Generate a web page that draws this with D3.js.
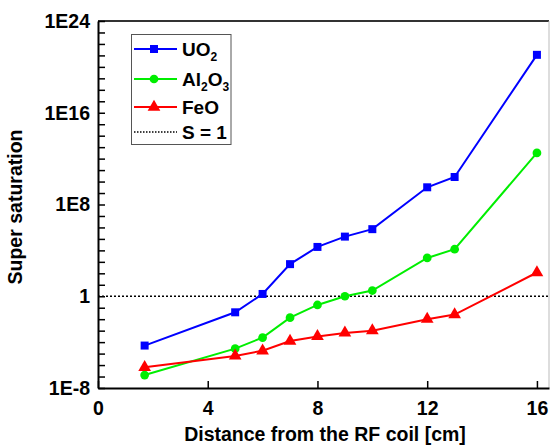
<!DOCTYPE html>
<html>
<head>
<meta charset="utf-8">
<script src="https://cdn.jsdelivr.net/npm/d3@7"></script>
<style>
  body { margin: 0; background: #fff; }
  text { font-family: "Liberation Sans", Arial, sans-serif; font-weight: bold; }
</style>
</head>
<body>
<div id="chart"></div>
<script>
// distances [cm]
const distance = [1.7, 5, 6, 7, 8, 9, 10, 12, 13, 16]
// log10 of super saturation
const uo2 = [-4.3, -1.4, 0.2, 2.8, 4.3, 5.2, 5.85, 9.5, 10.4, 21.05]
const al2o3 = [-6.87, -4.57, -3.6, -1.87, -0.76, 0, 0.5, 3.34, 4.1, 12.5]
const feo = [-6.2, -5.2, -4.75, -3.9, -3.5, -3.2, -3.0, -2.0, -1.6, 2.07]
const xTicks = [0, 4, 8, 12, 16]
const yLabelExp = [-8, 0, 8, 16, 24]

const width = 551, height = 447
const margin = {top: 21, right: 2, bottom: 59, left: 98}

const svg = d3.select('#chart').append('svg')
    .attr('width', width).attr('height', height)

const x = d3.scaleLinear().domain([0, 16.44]).range([margin.left, width - margin.right])
const y = d3.scaleLog().domain([1e-8, 1e24]).range([height - margin.bottom, margin.top])

// frame: top dark, right light
svg.append('line').attr('x1', margin.left).attr('x2', width - margin.right)
    .attr('y1', margin.top).attr('y2', margin.top)
    .attr('stroke', '#333').attr('stroke-width', 2)
svg.append('line').attr('x1', width - margin.right).attr('x2', width - margin.right)
    .attr('y1', margin.top).attr('y2', height - margin.bottom)
    .attr('stroke', '#bbb').attr('stroke-width', 1)

// x axis
const xAxis = svg.append('g').attr('transform', 'translate(0,' + (height - margin.bottom) + ')')
    .call(d3.axisBottom(x).tickValues(xTicks).tickSizeInner(-7).tickSizeOuter(0).tickPadding(13))
xAxis.select('.domain').attr('stroke-width', 2)
xAxis.selectAll('.tick line').attr('stroke-width', 1.5)
xAxis.selectAll('text').attr('font-size', 19.5).attr('fill', '#000')

// y axis, a tick every decade, label every 8
const yTickVals = d3.range(-8, 25).map(e => Math.pow(10, e))
const yAxis = svg.append('g').attr('transform', 'translate(' + margin.left + ',0)')
    .call(d3.axisLeft(y).tickValues(yTickVals).tickSizeInner(-7).tickSizeOuter(0).tickPadding(8)
        .tickFormat(d => {
            const e = Math.round(Math.log10(d))
            if (!yLabelExp.includes(e)) return ''
            return e === 0 ? '1' : '1E' + e
        }))
yAxis.select('.domain').attr('stroke-width', 2)
yAxis.selectAll('.tick line').attr('stroke-width', 1.5)
yAxis.selectAll('text').attr('font-size', 19.5).attr('fill', '#000')

// S = 1 line
svg.append('line').attr('x1', margin.left).attr('x2', width - margin.right)
    .attr('y1', y(1)).attr('y2', y(1))
    .attr('stroke', '#000').attr('stroke-width', 1.5).attr('stroke-dasharray', '2,2')

const series = [
    {name: 'UO2', vals: uo2, color: '#0000ff', shape: d3.symbolSquare, size: 64},
    {name: 'Al2O3', vals: al2o3, color: '#00ee00', shape: d3.symbolCircle, size: 60},
    {name: 'FeO', vals: feo, color: '#ff0000', shape: d3.symbolTriangle, size: 70}
]

const line = d3.line().x(d => x(d[0])).y(d => y(Math.pow(10, d[1])))

series.forEach(s => {
    const pts = distance.map((d, i) => [d, s.vals[i]])
    svg.append('path').datum(pts).attr('d', line)
        .attr('fill', 'none').attr('stroke', s.color).attr('stroke-width', 2)
    svg.append('g').selectAll('path').data(pts).enter().append('path')
        .attr('d', d3.symbol().type(s.shape).size(s.size))
        .attr('transform', d => 'translate(' + x(d[0]) + ',' + y(Math.pow(10, d[1])) + ')')
        .attr('fill', s.color)
})

// legend
const lg = svg.append('g')
lg.append('rect').attr('x', 131.5).attr('y', 34.5).attr('width', 99.5).attr('height', 110)
    .attr('fill', '#fff').attr('stroke', '#555').attr('stroke-width', 1)
const legendY = [49, 79, 107, 132]
series.forEach((s, i) => {
    lg.append('line').attr('x1', 134).attr('x2', 177).attr('y1', legendY[i]).attr('y2', legendY[i])
        .attr('stroke', s.color).attr('stroke-width', 2)
    lg.append('path').attr('d', d3.symbol().type(s.shape).size(s.size))
        .attr('transform', 'translate(154,' + legendY[i] + ')').attr('fill', s.color)
})
lg.append('line').attr('x1', 134).attr('x2', 177).attr('y1', legendY[3]).attr('y2', legendY[3])
    .attr('stroke', '#000').attr('stroke-width', 1.5).attr('stroke-dasharray', '1.5,1.5')

function legendText(i, parts) {
    const t = lg.append('text').attr('x', 182).attr('y', legendY[i] + 7).attr('font-size', 19)
    parts.forEach(p => {
        if (p[1]) t.append('tspan').text(p[0]).attr('font-size', 12).attr('dy', 5)
        else t.append('tspan').text(p[0]).attr('dy', p[2] || 0)
    })
}
legendText(0, [['UO'], ['2', true]])
legendText(1, [['Al'], ['2', true], ['O', false, -5], ['3', true]])
legendText(2, [['FeO']])
legendText(3, [['S = 1']])

// axis titles
svg.append('text').attr('x', 325).attr('y', 441)
    .attr('text-anchor', 'middle').attr('font-size', 19.5).text('Distance from the RF coil [cm]')
svg.append('text').attr('transform', 'translate(22,207) rotate(-90)')
    .attr('text-anchor', 'middle').attr('font-size', 19.5).text('Super saturation')
</script>
</body>
</html>
